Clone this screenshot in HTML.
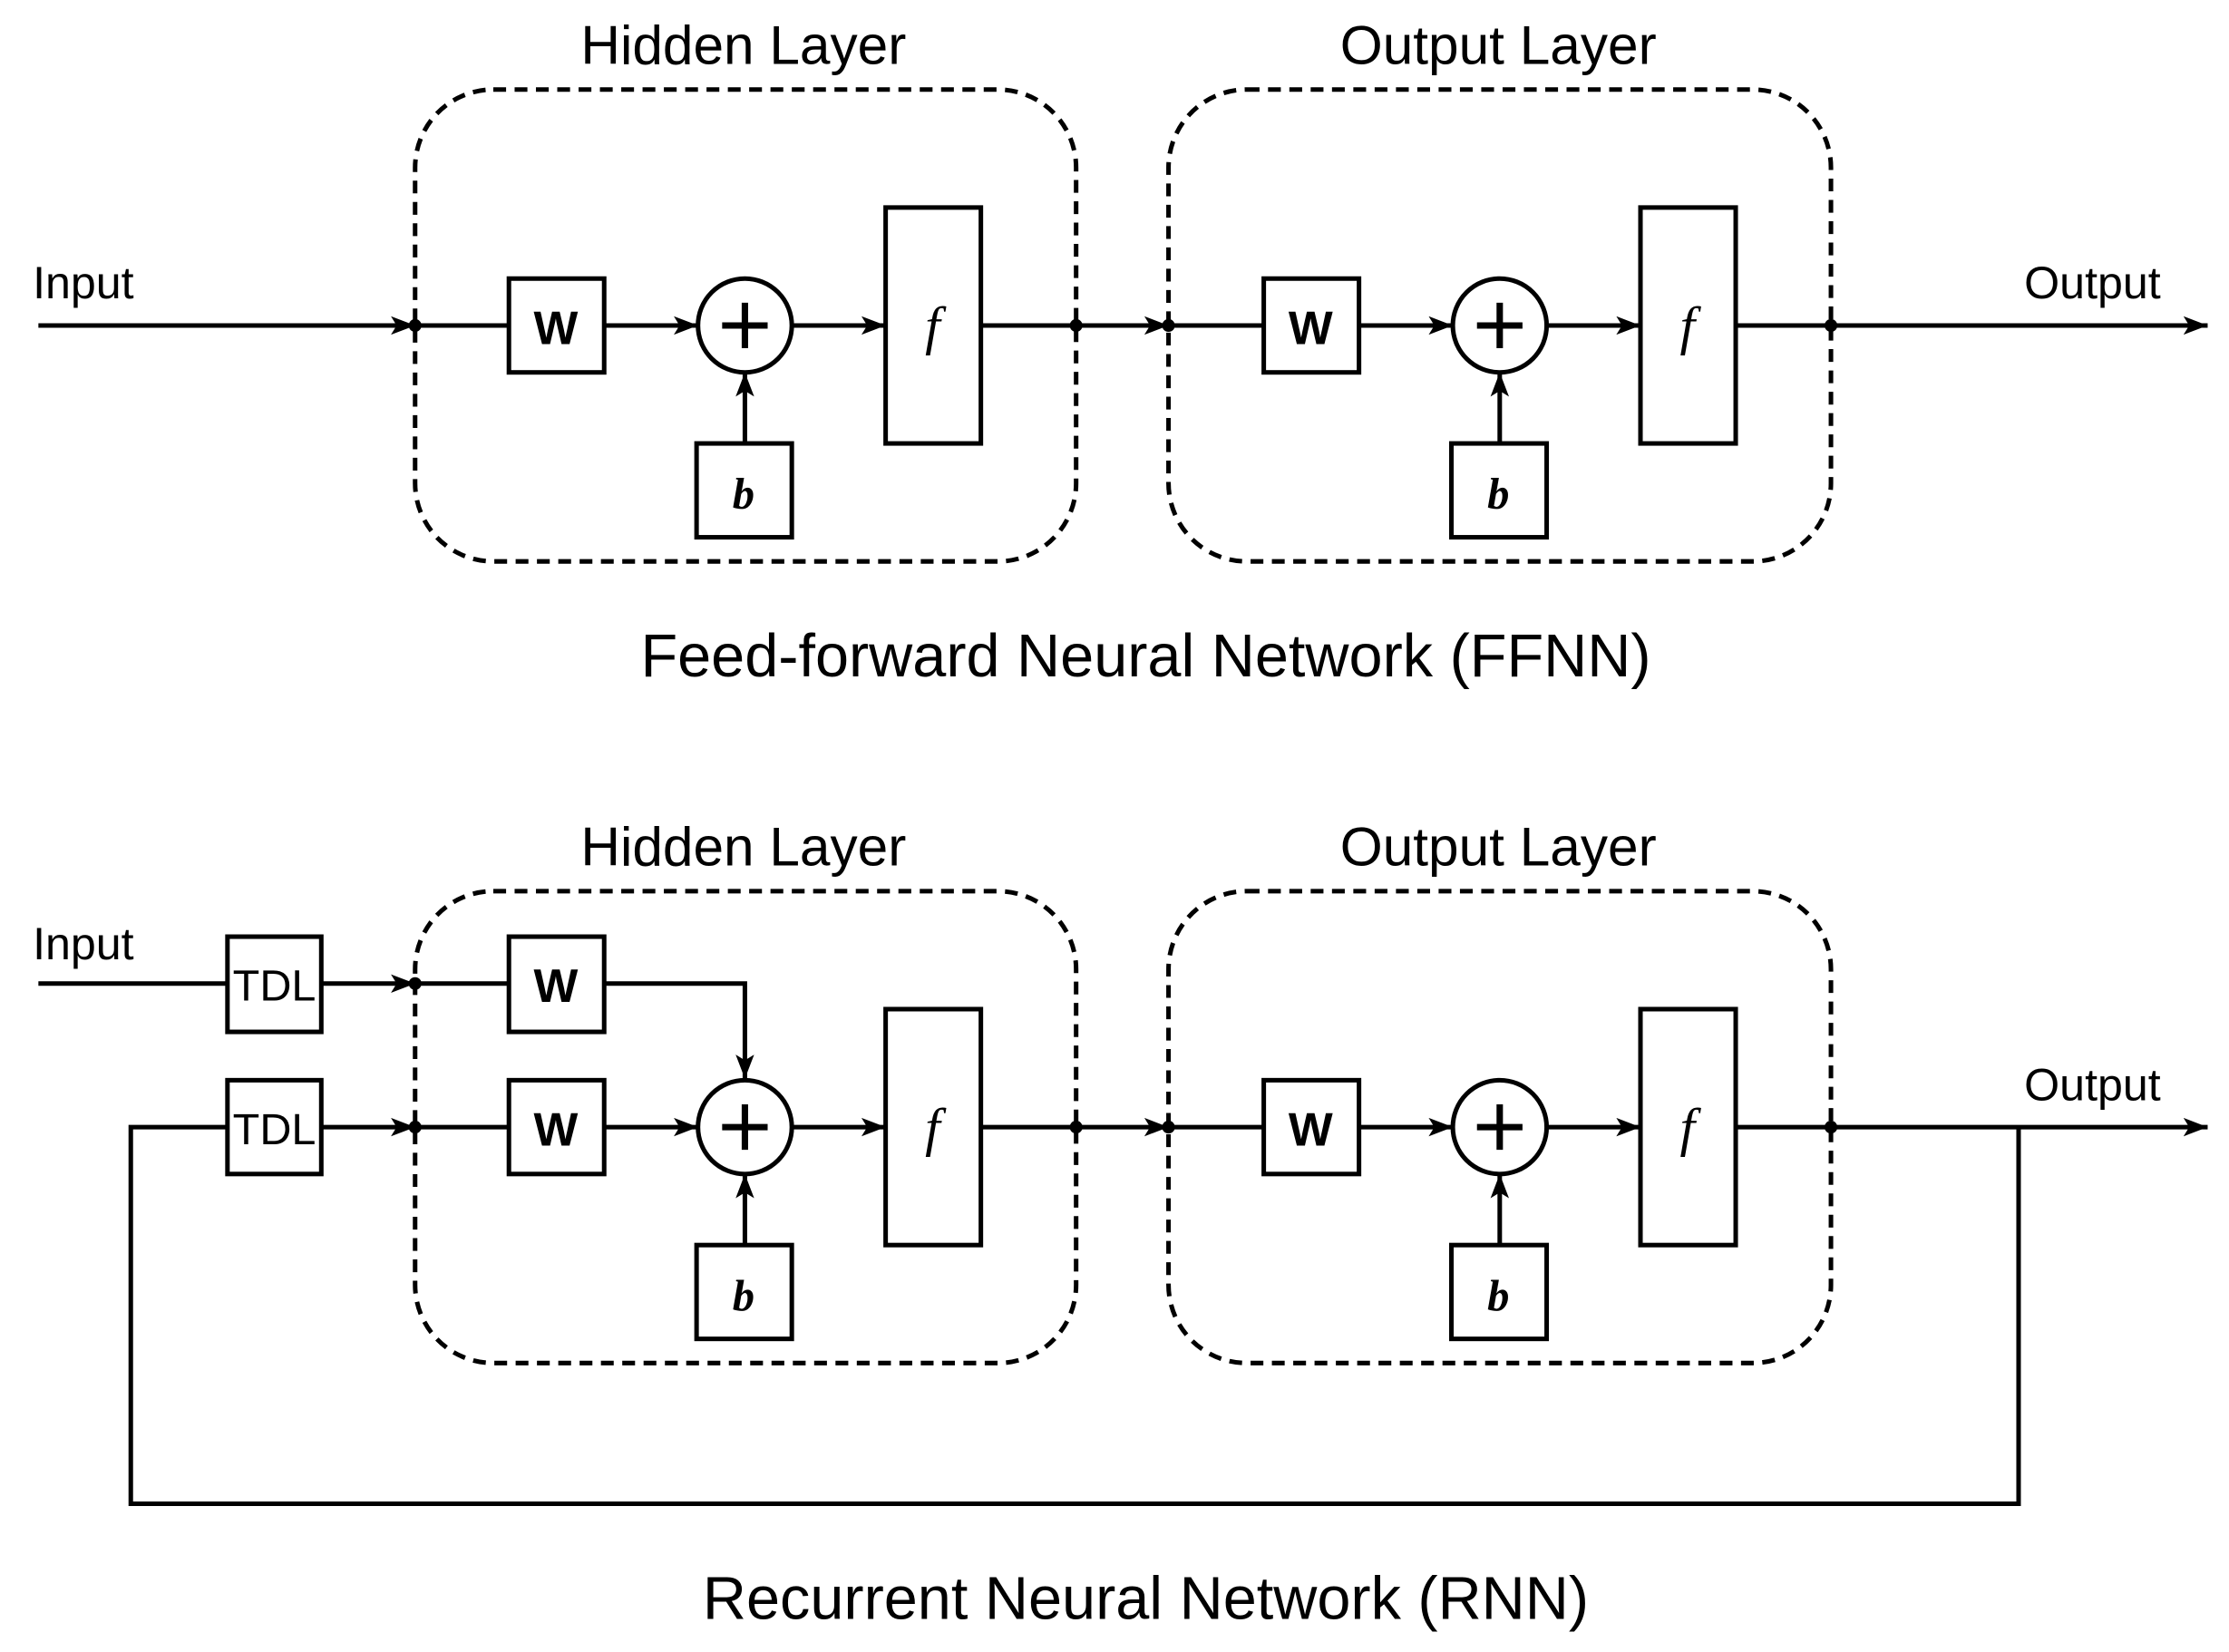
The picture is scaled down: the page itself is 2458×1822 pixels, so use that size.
<!DOCTYPE html>
<html><head><meta charset="utf-8"><style>html,body{margin:0;padding:0;background:#fff}svg{display:block}</style></head><body>
<svg width="2458" height="1822" viewBox="0 0 1568 1162.3" xmlns="http://www.w3.org/2000/svg">
<defs>
<marker id="b" markerWidth="17" markerHeight="13" refX="17" refY="6.5" orient="auto" markerUnits="userSpaceOnUse"><path d="M0,0 L17,6.5 L0,13 L4,6.5 z" fill="#000"/></marker></defs>
<g font-family="Liberation Sans, sans-serif" fill="#000" stroke="none">
<text x="523" y="45" font-size="38.5" text-anchor="middle">Hidden Layer</text>
<text x="1054" y="45" font-size="38.5" text-anchor="middle">Output Layer</text>
<text x="23" y="210" font-size="32">Input</text>
<text x="1520" y="210" font-size="32" text-anchor="end">Output</text>
<text x="806" y="476" font-size="42.5" text-anchor="middle">Feed-forward Neural Network (FFNN)</text>
<text x="523" y="609" font-size="38.5" text-anchor="middle">Hidden Layer</text>
<text x="1054" y="609" font-size="38.5" text-anchor="middle">Output Layer</text>
<text x="23" y="675" font-size="32">Input</text>
<text x="1520" y="774" font-size="32" text-anchor="end">Output</text>
<text x="806" y="1139" font-size="42.5" text-anchor="middle">Recurrent Neural Network (RNN)</text>
</g>
<g fill="none" stroke="#000" stroke-width="3.2">
<rect x="292" y="63" width="465" height="332" rx="55" stroke-dasharray="9,6"/>
<rect x="822" y="63" width="466" height="332" rx="55" stroke-dasharray="9,6"/>
<line x1="27" y1="229" x2="292" y2="229" marker-end="url(#b)"/>
<line x1="292" y1="229" x2="358" y2="229"/>
<line x1="425" y1="229" x2="491" y2="229" marker-end="url(#b)"/>
<line x1="557" y1="229" x2="623" y2="229" marker-end="url(#b)"/>
<line x1="690" y1="229" x2="822" y2="229" marker-end="url(#b)"/>
<line x1="524" y1="312" x2="524" y2="262" marker-end="url(#b)"/>
<line x1="822" y1="229" x2="889" y2="229"/>
<line x1="956" y1="229" x2="1022" y2="229" marker-end="url(#b)"/>
<line x1="1088" y1="229" x2="1154" y2="229" marker-end="url(#b)"/>
<line x1="1221" y1="229" x2="1553" y2="229" marker-end="url(#b)"/>
<line x1="1055" y1="312" x2="1055" y2="262" marker-end="url(#b)"/>
<rect x="358" y="196" width="67" height="66"/><circle cx="524" cy="229" r="33"/>
<rect x="623" y="146" width="67" height="166"/><rect x="490" y="312" width="67" height="66"/>
<rect x="889" y="196" width="67" height="66"/><circle cx="1055" cy="229" r="33"/>
<rect x="1154" y="146" width="67" height="166"/><rect x="1021" y="312" width="67" height="66"/>
<rect x="292" y="627" width="465" height="332" rx="55" stroke-dasharray="9,6"/>
<rect x="822" y="627" width="466" height="332" rx="55" stroke-dasharray="9,6"/>
<line x1="27" y1="692" x2="160" y2="692"/>
<line x1="226" y1="692" x2="292" y2="692" marker-end="url(#b)"/>
<line x1="292" y1="692" x2="358" y2="692"/>
<polyline points="425,692 524,692 524,759" marker-end="url(#b)"/>
<polyline points="160,793 92,793 92,1058 1420,1058 1420,793"/>
<line x1="226" y1="793" x2="292" y2="793" marker-end="url(#b)"/>
<line x1="292" y1="793" x2="358" y2="793"/>
<line x1="425" y1="793" x2="491" y2="793" marker-end="url(#b)"/>
<line x1="557" y1="793" x2="623" y2="793" marker-end="url(#b)"/>
<line x1="690" y1="793" x2="822" y2="793" marker-end="url(#b)"/>
<line x1="524" y1="876" x2="524" y2="826" marker-end="url(#b)"/>
<line x1="822" y1="793" x2="889" y2="793"/>
<line x1="956" y1="793" x2="1022" y2="793" marker-end="url(#b)"/>
<line x1="1088" y1="793" x2="1154" y2="793" marker-end="url(#b)"/>
<line x1="1221" y1="793" x2="1553" y2="793" marker-end="url(#b)"/>
<line x1="1055" y1="876" x2="1055" y2="826" marker-end="url(#b)"/>
<rect x="160" y="659" width="66" height="67"/><rect x="160" y="760" width="66" height="66"/>
<rect x="358" y="659" width="67" height="67"/><rect x="358" y="760" width="67" height="66"/>
<circle cx="524" cy="793" r="33"/>
<rect x="623" y="710" width="67" height="166"/><rect x="490" y="876" width="67" height="66"/>
<rect x="889" y="760" width="67" height="66"/><circle cx="1055" cy="793" r="33"/>
<rect x="1154" y="710" width="67" height="166"/><rect x="1021" y="876" width="67" height="66"/>
<path d="M508,229 h32 M524,213 v32 M1039,229 h32 M1055,213 v32 M508,793 h32 M524,777 v32 M1039,793 h32 M1055,777 v32" stroke-width="4.5"/>
</g>
<g fill="#000">
<circle cx="292" cy="229" r="4.5"/><circle cx="757" cy="229" r="4.5"/><circle cx="822" cy="229" r="4.5"/><circle cx="1288" cy="229" r="4.5"/>
<circle cx="292" cy="692" r="4.5"/><circle cx="292" cy="793" r="4.5"/><circle cx="757" cy="793" r="4.5"/><circle cx="822" cy="793" r="4.5"/><circle cx="1288" cy="793" r="4.5"/>
</g>
<g font-family="Liberation Sans, sans-serif" font-size="33" font-weight="bold" text-anchor="middle">
<text x="391" y="242">W</text><text x="922" y="242">W</text>
<text x="391" y="705">W</text><text x="391" y="806">W</text><text x="922" y="806">W</text>
</g>
<g font-family="Liberation Sans, sans-serif" font-size="31" text-anchor="middle">
<text x="193" y="704">TDL</text><text x="193" y="805">TDL</text>
</g>
<g font-family="Liberation Serif, serif" font-style="italic" font-size="38" text-anchor="middle">
<text x="656" y="242">f</text><text x="1187" y="242">f</text><text x="656" y="806">f</text><text x="1187" y="806">f</text>
</g>
<g font-family="Liberation Serif, serif" font-style="italic" font-weight="bold" font-size="31" text-anchor="middle">
<text x="523" y="358">b</text><text x="1054" y="358">b</text><text x="523" y="922">b</text><text x="1054" y="922">b</text>
</g>
</svg>
</body></html>
